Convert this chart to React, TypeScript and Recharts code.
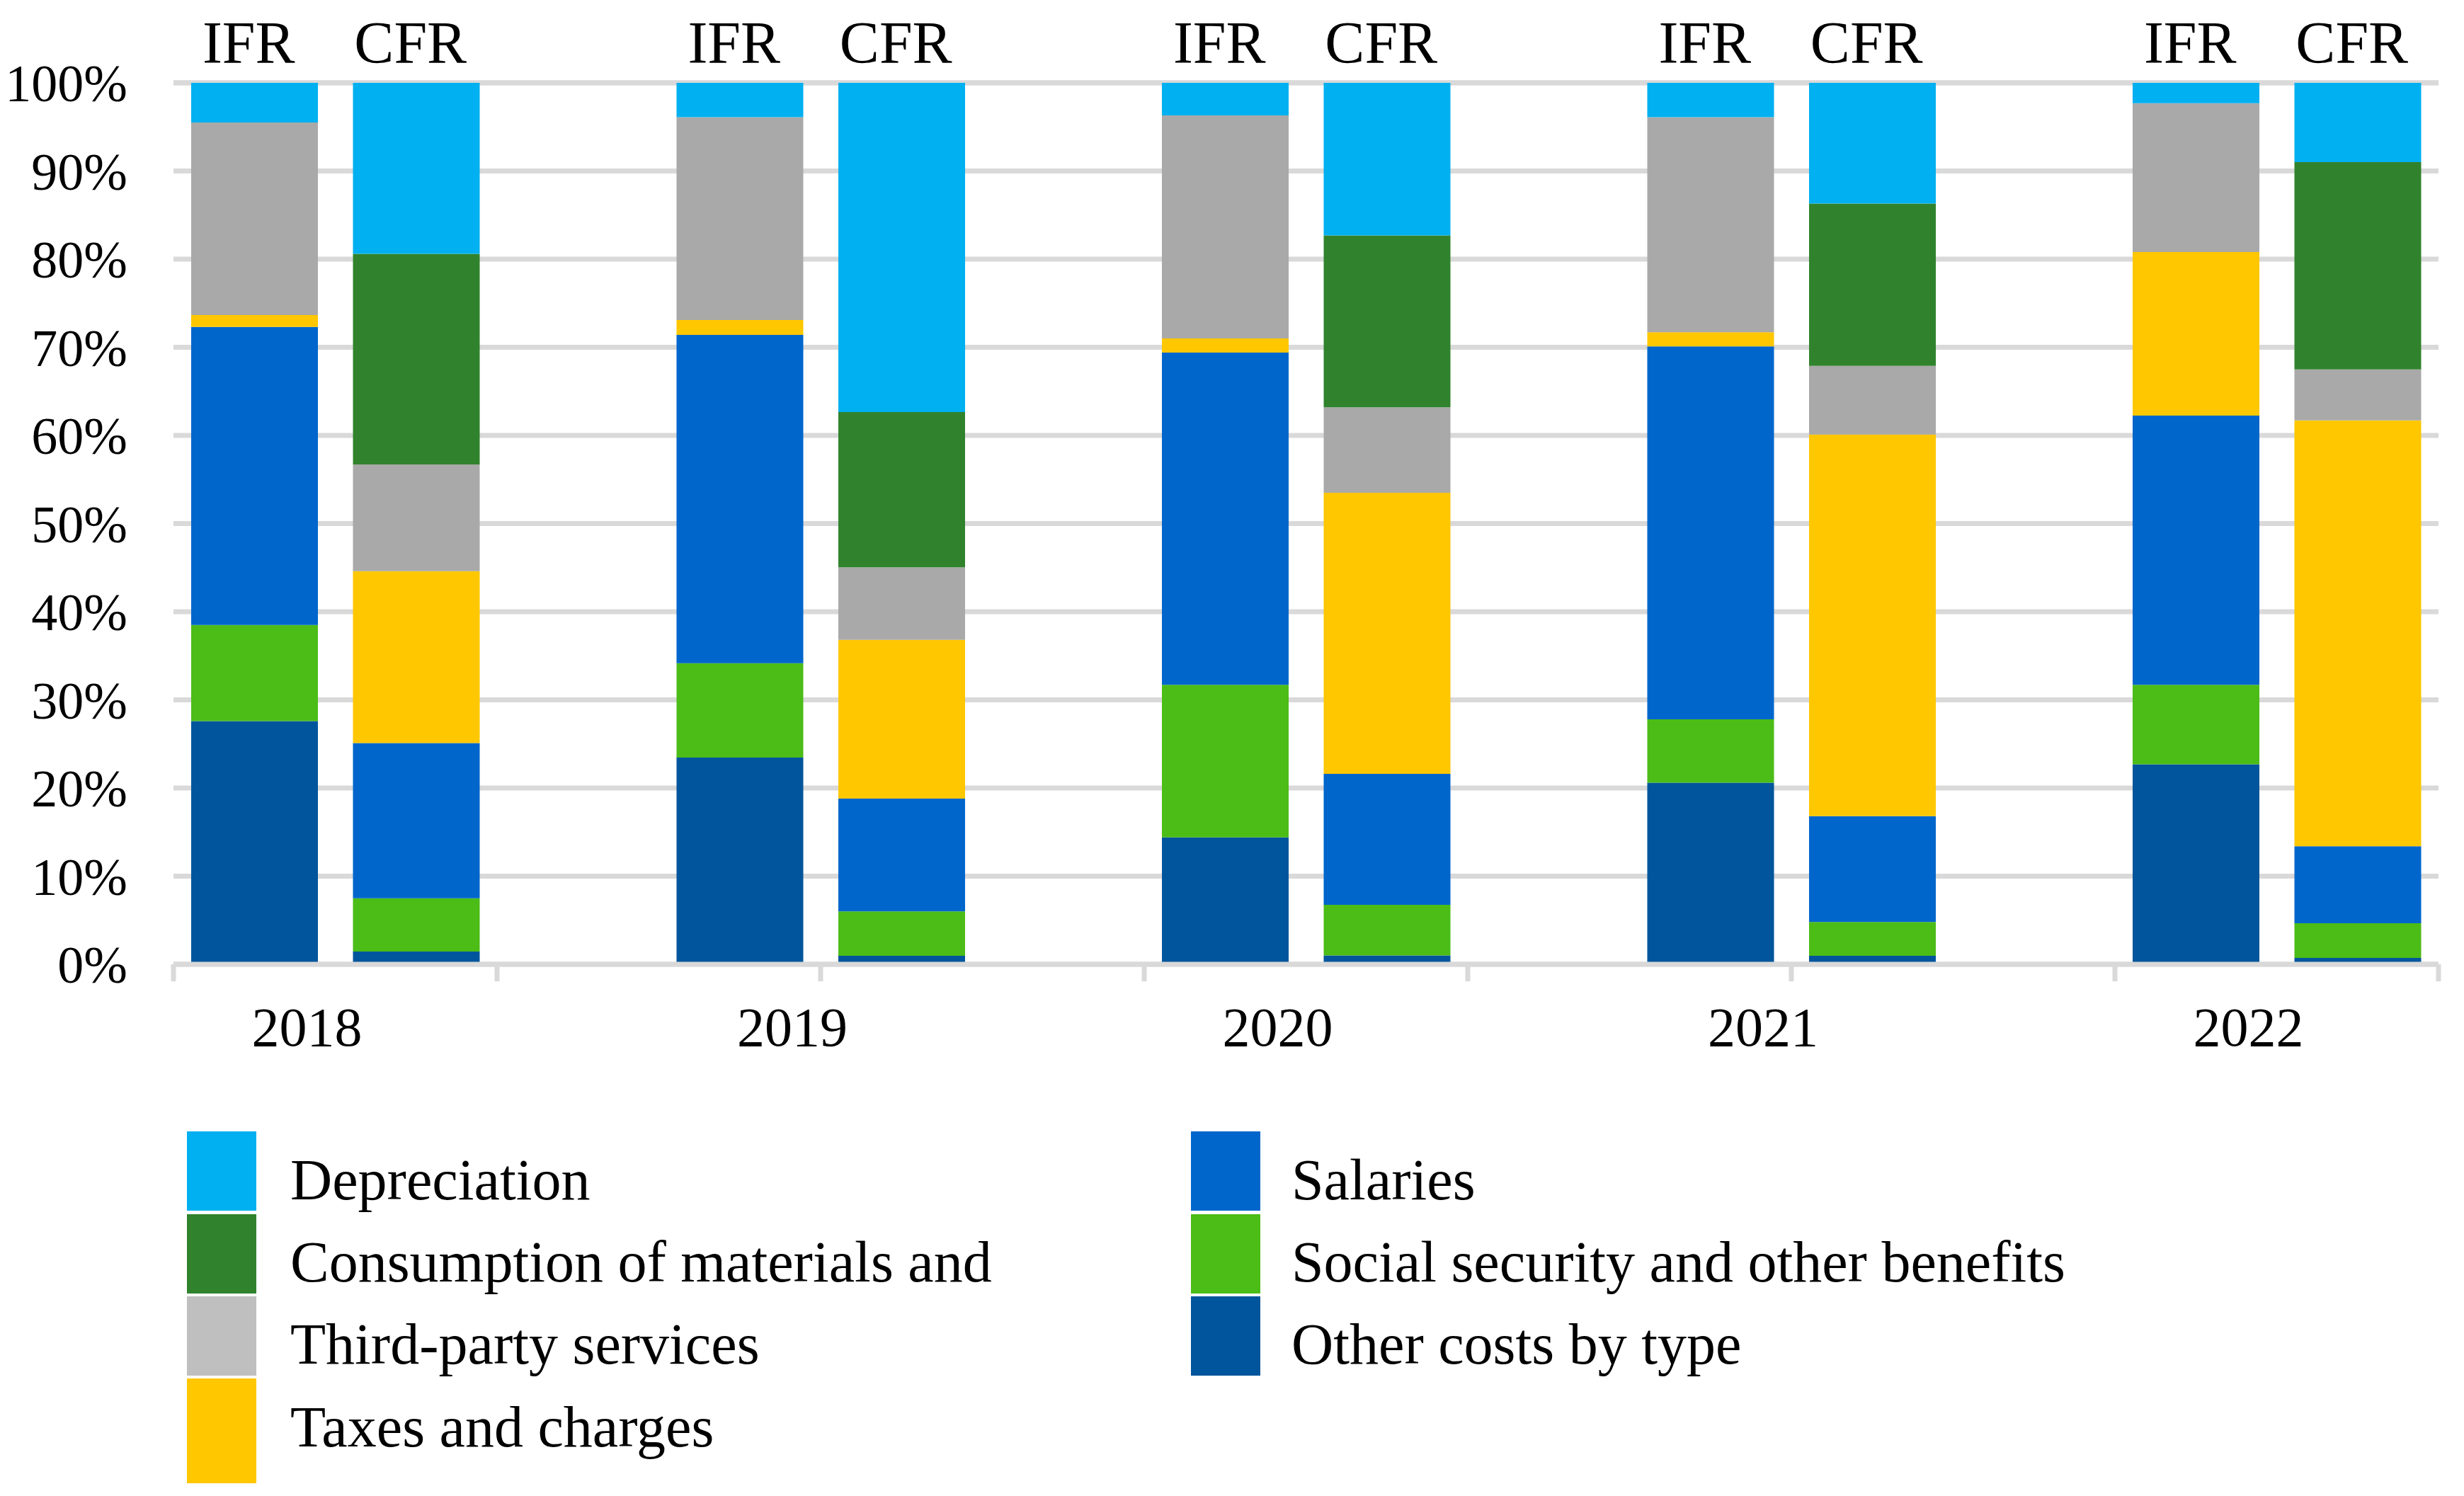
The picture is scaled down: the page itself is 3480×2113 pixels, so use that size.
import React from 'react';
import { BarChart, Bar, XAxis, YAxis, CartesianGrid, Legend } from 'recharts';

// ---------- data ----------
const years = ['2018', '2019', '2020', '2021', '2022'];
const methods = ['IFR', 'CFR'];
const yTicks = [0, 10, 20, 30, 40, 50, 60, 70, 80, 90, 100];

// columns: IFR 2018, CFR 2018, IFR 2019, CFR 2019, ... IFR 2022, CFR 2022 (% of total)
const otherCosts = [27.6, 1.45, 23.45, 0.96, 14.4, 1.0, 20.6, 0.96, 22.7, 0.72];
const socialSecurity = [10.9, 6.05, 10.7, 5.04, 17.3, 5.75, 7.2, 3.84, 9.0, 3.93];
const salaries = [33.8, 17.6, 37.25, 12.8, 37.7, 14.85, 42.3, 12.0, 30.55, 8.75];
const taxes = [1.35, 19.5, 1.7, 18.0, 1.6, 31.9, 1.6, 43.3, 18.55, 48.3];
const thirdParty = [21.85, 12.1, 23.0, 8.25, 25.3, 9.7, 24.4, 7.8, 16.9, 5.8];
const consumption = [0, 23.9, 0, 17.6, 0, 19.5, 0, 18.4, 0, 23.5];
const depreciation = [4.5, 19.4, 3.9, 37.35, 3.7, 17.3, 3.9, 13.7, 2.3, 9.0];

const seriesNames = {
  otherCosts: 'Other costs by type',
  socialSecurity: 'Social security and other benefits',
  salaries: 'Salaries',
  taxes: 'Taxes and charges',
  thirdParty: 'Third-party services',
  consumption: 'Consumption of materials and',
  depreciation: 'Depreciation',
};

const seriesValues: Record<string, number[]> = {
  otherCosts, socialSecurity, salaries, taxes, thirdParty, consumption, depreciation,
};

// stacking order bottom -> top
const stackOrder = ['otherCosts', 'socialSecurity', 'salaries', 'taxes', 'thirdParty', 'consumption', 'depreciation'];
// legend order (row-major, two columns)
const legendOrder = ['depreciation', 'salaries', 'consumption', 'socialSecurity', 'thirdParty', 'otherCosts', 'taxes'];

// ---------- styles ----------
const colors: Record<string, string> = {
  otherCosts: '#01559C',
  socialSecurity: '#4CBC17',
  salaries: '#0066CC',
  taxes: '#FFC700',
  thirdParty: '#A9A9A9',
  consumption: '#30832C',
  depreciation: '#00B0F0',
};
const legendColors: Record<string, string> = { ...colors, thirdParty: '#BFBFBF' };

const FONT = "'Liberation Serif', 'Times New Roman', serif";
const W = 3480;
const H = 2113;
const PLOT_LEFT = 245;
const PLOT_RIGHT = 3444;
const PLOT_TOP = 117;
const PLOT_BOTTOM = 1362;
const TOP_AXIS_H = 100;
const BOTTOM_AXIS_H = 150;
const GRID = '#D9D9D9';

// ---------- table for the chart ----------
type Row = { key: string; method: string; year: string; [k: string]: any };
const rows: Row[] = [];
years.forEach((year, yi) => {
  methods.forEach((m, mi) => {
    const col = yi * methods.length + mi;
    const r: Row = { key: `${m} ${year}`, method: m, year };
    stackOrder.forEach((s) => { r[s] = seriesValues[s][col]; });
    rows.push(r);
  });
  if (yi < years.length - 1) rows.push({ key: `gap ${year}`, method: '', year: '' });
});

const BAND = (PLOT_RIGHT - PLOT_LEFT) / rows.length;

const BottomTick = (props: any) => {
  const { x, y, payload } = props;
  const i = payload.index;
  const row = rows[i];
  const half = BAND / 2;
  const els: any[] = [];
  if (i % 2 === 0) {
    els.push(<line key="l" x1={x - half} x2={x - half} y1={y} y2={y + 24} stroke={GRID} strokeWidth={7} />);
  }
  if (i === rows.length - 1) {
    els.push(<line key="r" x1={x + half} x2={x + half} y1={y} y2={y + 24} stroke={GRID} strokeWidth={7} />);
  }
  if (row && row.method === methods[0]) {
    els.push(
      <text key="t" x={x + half - 40} y={y + 115} textAnchor="middle" fill="#000" fontSize={78} fontFamily={FONT}>
        {row.year}
      </text>
    );
  }
  return <g>{els}</g>;
};

const TopTick = (props: any) => {
  const { x, y, payload } = props;
  const v: string = payload.value;
  if (v.startsWith('gap')) return <g />;
  return (
    <text x={x - 8} y={y} textAnchor="middle" fill="#000" fontSize={84} fontFamily={FONT}>
      {v.split(' ')[0]}
    </text>
  );
};

const LEG_TOP = 1500;
const legColX = [264, 1682];
const legTextX = [410, 1824];
const legRowTop = [1598, 1715, 1831, 1947];
const legRowH = [112, 112, 112, 148];
const legBaseline = [1694, 1810, 1926, 2043];

const renderLegend = (props: any) => {
  const payload: any[] = props.payload || [];
  return (
    <svg width={W} height={H - LEG_TOP} style={{ display: 'block' }}>
      {legendOrder.map((k, idx) => {
        const item = payload.find((p) => p.dataKey === k);
        const col = idx % 2;
        const row = Math.floor(idx / 2);
        return (
          <g key={k}>
            <rect x={legColX[col]} y={legRowTop[row] - LEG_TOP} width={98} height={legRowH[row]} fill={legendColors[k]} />
            <text x={legTextX[col]} y={legBaseline[row] - LEG_TOP} fill="#000" fontSize={82} fontFamily={FONT}>
              {item ? item.value : (seriesNames as any)[k]}
            </text>
          </g>
        );
      })}
    </svg>
  );
};

export default function App() {
  return (
    <div style={{ position: 'absolute', left: 0, top: 0, width: W, height: H, background: '#fff' }}>
      <BarChart
        width={W}
        height={H}
        data={rows}
        margin={{ top: PLOT_TOP - TOP_AXIS_H, right: W - PLOT_RIGHT, left: 0, bottom: H - PLOT_BOTTOM - BOTTOM_AXIS_H }}
      >
        <CartesianGrid horizontal vertical={false} stroke={GRID} strokeWidth={7} />
        <XAxis
          xAxisId="bottom"
          dataKey="key"
          type="category"
          orientation="bottom"
          height={BOTTOM_AXIS_H}
          interval={0}
          axisLine={{ stroke: GRID, strokeWidth: 7 }}
          tickLine={false}
          tickSize={0}
          tickMargin={0}
          tick={<BottomTick />}
        />
        <XAxis
          xAxisId="top"
          dataKey="key"
          type="category"
          orientation="top"
          height={TOP_AXIS_H}
          interval={0}
          axisLine={false}
          tickLine={false}
          tickSize={0}
          tickMargin={28}
          tick={<TopTick />}
        />
        <YAxis
          domain={[0, 100]}
          ticks={yTicks}
          interval={0}
          width={PLOT_LEFT}
          axisLine={false}
          tickLine={false}
          tickSize={0}
          tickMargin={65}
          tick={{ fill: '#000', fontSize: 74, fontFamily: FONT }}
          tickFormatter={(v: number) => `${v}%`}
        />
        {stackOrder.map((k) => (
          <Bar
            key={k}
            xAxisId="bottom"
            dataKey={k}
            name={(seriesNames as any)[k]}
            stackId="s"
            fill={colors[k]}
            barSize={179}
            isAnimationActive={false}
          />
        ))}
        <Legend
          layout="horizontal"
          verticalAlign="middle"
          align="center"
          content={renderLegend}
          wrapperStyle={{ position: 'absolute', top: LEG_TOP, left: 0, width: W, height: H - LEG_TOP }}
        />
      </BarChart>
    </div>
  );
}
